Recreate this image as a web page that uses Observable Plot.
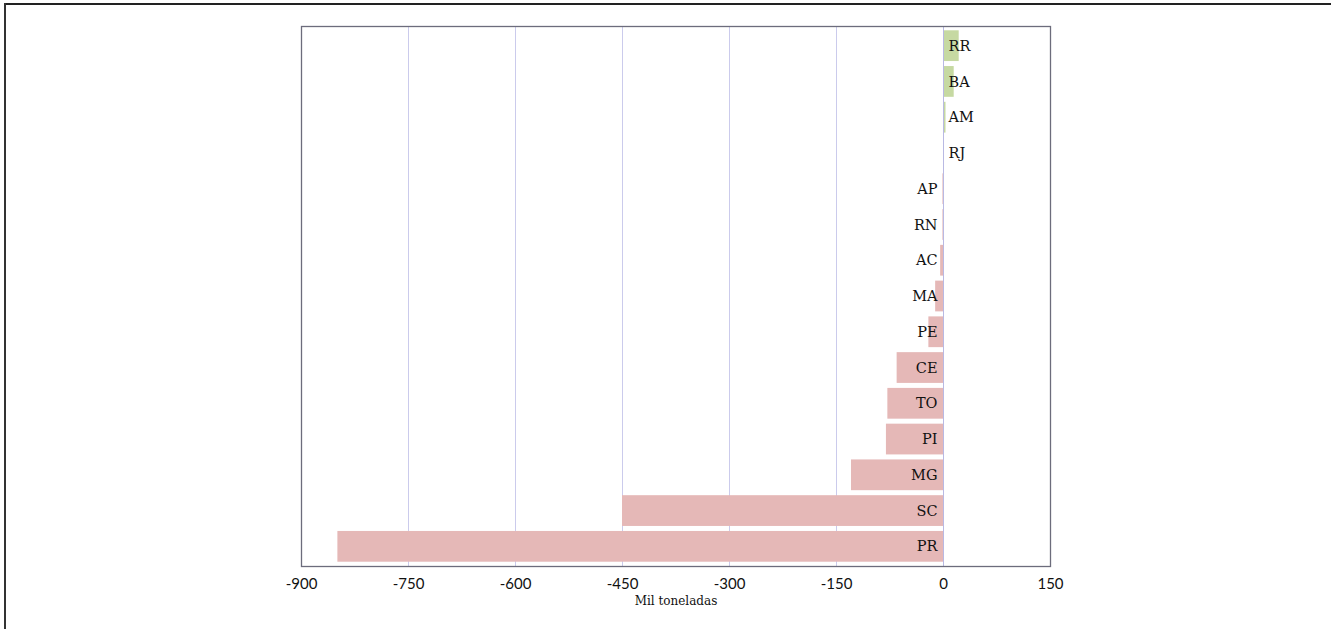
<!DOCTYPE html>
<html>
<head>
<meta charset="utf-8">
<script src="https://cdn.jsdelivr.net/npm/d3@7"></script>
<script src="https://cdn.jsdelivr.net/npm/@observablehq/plot@0.6"></script>
<style>
  html, body { margin: 0; padding: 0; background: #fff; overflow: hidden; }
  #wrap { position: relative; width: 1331px; height: 629px; }
  #topline { position: absolute; left: 4px; top: 3px; width: 1331px; height: 2px; background: #222; }
  #leftline { position: absolute; left: 4px; top: 3px; width: 2px; height: 629px; background: #333; }
  #chart { position: absolute; left: 0; top: 0; }
</style>
</head>
<body>
<div id="wrap">
  <div id="chart"></div>
  <div id="topline"></div>
  <div id="leftline"></div>
</div>
<script>
const states = ["RR","BA","AM","RJ","AP","RN","AC","MA","PE","CE","TO","PI","MG","SC","PR"];
const values = [22, 15, 3.5, 1, -0.8, -0.8, -4, -11, -20.5, -65, -78, -80, -129, -450, -849];
const xTicks = [-900, -750, -600, -450, -300, -150, 0, 150];
const gridTicks = [-750, -600, -450, -300, -150];
const xLabel = "Mil toneladas";

const data = states.map((s, i) => ({state: s, value: values[i]}));

const chart = Plot.plot({
  width: 1331,
  height: 629,
  marginLeft: 301,
  marginRight: 281,
  marginTop: 26,
  marginBottom: 63,
  style: {background: "white"},
  x: {domain: [-900, 150], ticks: xTicks, label: null},
  y: {domain: states, paddingInner: 0.14, paddingOuter: 0.12, round: false, axis: null},
  marks: [
    Plot.ruleX(gridTicks, {stroke: "#cbcbec", strokeWidth: 1}),
    Plot.barX(data, {y: "state", x: "value", fill: d => d.value >= 0 ? "#c6d9a2" : "#e5b8b7"}),
    Plot.ruleX([0], {stroke: "#b9b9e3", strokeWidth: 1}),
    Plot.frame({stroke: "#6c6c7c", strokeWidth: 1.3}),
    Plot.text(data.filter(d => d.value >= 0), {y: "state", x: 0, text: "state", dx: 5, textAnchor: "start", fontFamily: "DejaVu Serif", fontSize: 14.5, fill: "#111"}),
    Plot.text(data.filter(d => d.value < 0), {y: "state", x: 0, text: "state", dx: -6, textAnchor: "end", fontFamily: "DejaVu Serif", fontSize: 14.5, fill: "#111"}),
    Plot.axisX({ticks: xTicks, tickSize: 0, tickPadding: 12, tickFormat: d => String(d), fontFamily: "Lato", fontSize: 15, fill: "#111", label: null}),
    Plot.text([xLabel], {frameAnchor: "bottom", dy: 38, fontFamily: "DejaVu Serif", fontSize: 12, fill: "#111"})
  ]
});
document.getElementById("chart").appendChild(chart);
</script>
</body>
</html>
